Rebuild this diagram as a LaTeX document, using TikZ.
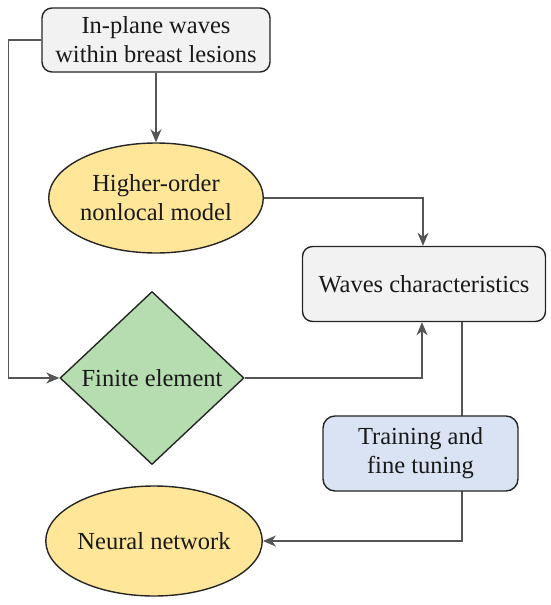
\documentclass[tikz,border=0pt]{standalone}
\usepackage{fontspec}
\setmainfont{Liberation Serif}
\usepackage{tikz}
\usepackage{xcolor}
\usetikzlibrary{arrows.meta,positioning,shapes.geometric}

\definecolor{boxgray}{HTML}{F2F2F2}
\definecolor{ovalyellow}{HTML}{FFE699}
\definecolor{diagreen}{HTML}{B6DDB0}
\definecolor{boxblue}{HTML}{DAE3F3}
\definecolor{wiregray}{HTML}{555555}

\begin{document}
\begin{tikzpicture}[
  x=1pt, y=-1pt,
  >={Stealth[length=13pt,width=11pt,inset=4pt]},
  every node/.style={font=\fontsize{24.5}{29}\selectfont, align=center, text=black!90},
  proc/.style={draw=black!85, line width=1.4pt, rounded corners=10pt, fill=#1, inner sep=0pt},
  oval/.style={draw=black!85, line width=1.4pt, ellipse, fill=ovalyellow, inner sep=0pt, minimum width=202pt, minimum height=110pt},
  decision/.style={draw=black!85, line width=1.4pt, diamond, fill=diagreen, inner sep=0pt, minimum width=184pt, minimum height=173pt},
  wire/.style={draw=wiregray, line width=1.3pt}
]
\useasboundingbox (0,0) rectangle (550,605);
\node[proc=boxgray, minimum width=228pt, minimum height=64pt] (lesion) at (156,40) {In-plane waves\\within breast lesions};
\node[oval] (hom) at (156,198) {Higher-order\\nonlocal model};
\node[proc=boxgray, minimum width=243pt, minimum height=75pt] (wave) at (424,284) {Waves characteristics};
\node[decision] (fem) at (152,378) {Finite element};
\node[oval, minimum width=204pt] (nn) at (154,541) {Neural network};
% line to the neural network runs behind the training box
\draw[wire, ->] ([xshift=38pt]wave.south) |- (nn.east);
\node[proc=boxblue, minimum width=195pt, minimum height=75pt, rounded corners=12pt] (train) at (420.5,453.5) {Training and\\fine tuning};
\draw[wire, ->] (lesion.south) -- (hom.north);
\draw[wire, ->] (lesion.west) -- ++(-33,0) |- (fem.west);
\draw[wire, ->] (hom.east) -| ([xshift=-1pt]wave.north);
\draw[wire, ->] (fem.east) -| ([xshift=-2pt]wave.south);
\end{tikzpicture}
\end{document}
